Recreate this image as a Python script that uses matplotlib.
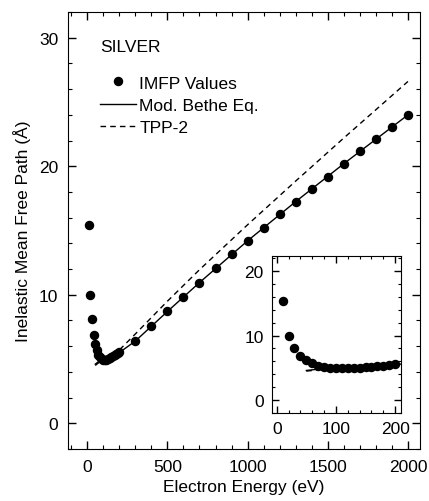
import matplotlib
matplotlib.use("Agg")
import matplotlib.pyplot as plt
from matplotlib.lines import Line2D
from matplotlib.ticker import MultipleLocator

plt.rcParams['font.family'] = ['Liberation Sans', 'DejaVu Sans']
plt.rcParams['font.size'] = 12.5

# IMFP values, 10-200 eV in 10 eV steps
e_low = [10, 20, 30, 40, 50, 60, 70, 80, 90, 100,
         110, 120, 130, 140, 150, 160, 170, 180, 190, 200]
imfp_low = [15.4, 10.0, 8.1, 6.9, 6.2, 5.7, 5.35, 5.15, 5.0, 4.95,
            4.92, 4.95, 5.0, 5.05, 5.12, 5.2, 5.28, 5.36, 5.45, 5.55]
# IMFP values, 300-2000 eV in 100 eV steps
e_high = [300, 400, 500, 600, 700, 800, 900, 1000, 1100,
          1200, 1300, 1400, 1500, 1600, 1700, 1800, 1900, 2000]
imfp_high = [6.4, 7.55, 8.7, 9.85, 10.95, 12.05, 13.15, 14.2, 15.2,
             16.25, 17.25, 18.25, 19.2, 20.2, 21.15, 22.1, 23.05, 24.0]

# fitted curves
curve_e = [50, 60, 70, 80, 100, 120, 150, 200, 300, 500, 700, 1000, 1300, 1600, 2000]
bethe = [4.6, 4.7, 4.8, 4.85, 4.9, 4.93, 5.1, 5.5, 6.4, 8.7, 10.95, 14.2, 17.25, 20.2, 24.0]
tpp2 = [4.5, 4.6, 4.7, 4.8, 4.9, 4.98, 5.2, 5.7, 6.95, 9.5, 11.95, 15.45, 18.85, 22.2, 26.6]

e_all = e_low + e_high
imfp_all = imfp_low + imfp_high

fig = plt.figure(figsize=(4.29, 5.02), dpi=100)
ax = fig.add_axes([0.1585, 0.1036, 0.8205, 0.8704])

ax.plot(curve_e, tpp2, color='black', lw=1.0, ls=(0, (4, 3)))
ax.plot(curve_e, bethe, color='black', lw=1.0)
ax.plot(e_all, imfp_all, 'o', color='black', ms=5.8)

ax.set_xlim(-120, 2075)
ax.set_ylim(-2, 32)
ax.set_xticks([0, 500, 1000, 1500, 2000])
ax.set_yticks([0, 10, 20, 30])
ax.xaxis.set_minor_locator(MultipleLocator(100))
ax.yaxis.set_minor_locator(MultipleLocator(2))
ax.tick_params(which='both', direction='in', top=True, right=True)
ax.tick_params(which='major', length=6, width=1, pad=7)
ax.tick_params(which='minor', length=3, width=0.8)
ax.set_xlabel('Electron Energy (eV)', labelpad=4)
ax.set_ylabel('Inelastic Mean Free Path (Å)', labelpad=6)

ax.text(0.091, 0.922, 'SILVER', transform=ax.transAxes, ha='left', va='center')
handles = [
    Line2D([], [], ls='none', marker='o', color='black', ms=5.8),
    Line2D([], [], color='black', lw=1.0),
    Line2D([], [], color='black', lw=1.0, ls=(0, (4, 3))),
]
ax.legend(handles, ['IMFP Values', 'Mod. Bethe Eq.', 'TPP-2'],
          loc='upper left', bbox_to_anchor=(0.091, 0.855), frameon=False,
          handlelength=2.1, handletextpad=0.17, labelspacing=0.4,
          borderpad=0, borderaxespad=0)

# inset: low energy region
ins = fig.add_axes([0.634, 0.175, 0.301, 0.313])
ins.plot(curve_e, tpp2, color='black', lw=1.0, ls=(0, (4, 3)))
ins.plot(curve_e, bethe, color='black', lw=1.0)
ins.plot(e_low, imfp_low, 'o', color='black', ms=5.8)
ins.set_xlim(-8, 210)
ins.set_ylim(-2, 22.3)
ins.set_xticks([0, 100, 200])
ins.set_yticks([0, 10, 20])
ins.xaxis.set_minor_locator(MultipleLocator(20))
ins.yaxis.set_minor_locator(MultipleLocator(2))
ins.tick_params(which='both', direction='in', top=True, right=True)
ins.tick_params(which='major', length=5, width=1, pad=6)
ins.tick_params(which='minor', length=2.5, width=0.8)

fig.savefig('out.png', dpi=100)
